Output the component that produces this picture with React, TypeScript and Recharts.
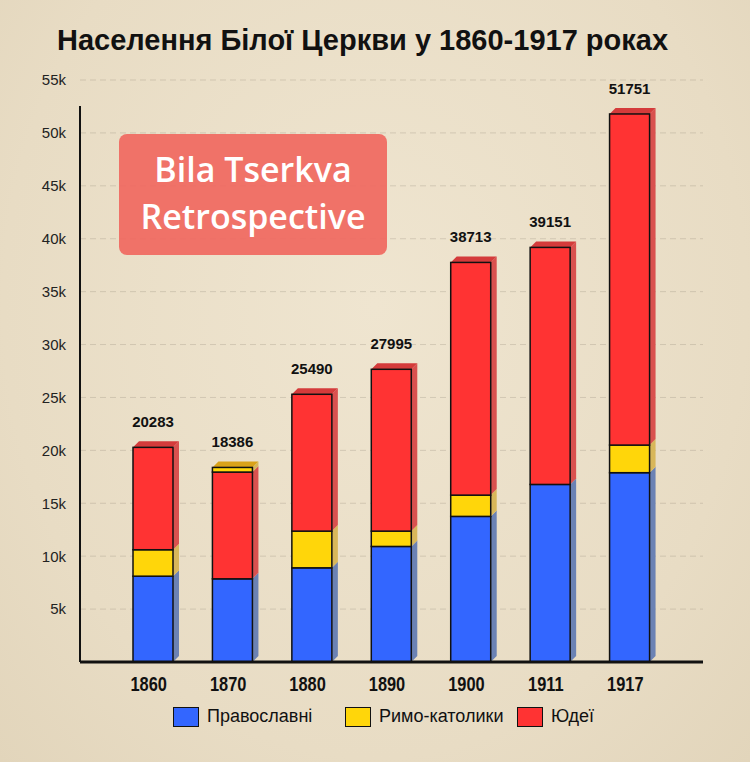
import React from 'react';
import { BarChart, Bar, XAxis, YAxis, CartesianGrid, Legend, LabelList } from 'recharts';

// значення (осі), підписи - загальна кількість
const years = ['1860', '1870', '1880', '1890', '1900', '1911', '1917'];
const orthodox = [8110, 7860, 8900, 10920, 13760, 16780, 17890];
const catholics = [2500, 436, 3470, 1450, 2010, 0, 2610];
const jews = [9673, 10090, 12930, 15290, 21990, 22400, 31290];
const totals = [20283, 18386, 25490, 27995, 38713, 39151, 51751];
// у 1870 католики стоять зверху стовпчика
const catholicsOnTop = [false, true, false, false, false, false, false];
const yTicks = [5000, 10000, 15000, 20000, 25000, 30000, 35000, 40000, 45000, 50000, 55000];

const names = { orthodox: 'Православні', catholics: 'Римо-католики', jews: 'Юдеї' };

const colors = {
  orthodox: { front: '#3366ff', side: '#6b82b4', top: '#4a66c8' },
  catholics: { front: '#ffd60a', side: '#d8b75a', top: '#d9a21a' },
  jews: { front: '#ff3333', side: '#d9514f', top: '#d43b3b' },
};

const data = years.map((year, i) => ({
  year,
  orthodox: orthodox[i],
  catholics: catholicsOnTop[i] ? 0 : catholics[i],
  jews: jews[i],
  catholicsTop: catholicsOnTop[i] ? catholics[i] : 0,
  top: catholicsOnTop[i] ? 'catholicsTop' : 'jews',
}));

const sans = "'Liberation Sans', Arial, sans-serif";
const depth = 6;

function Box3D(props: any) {
  const { x, y, width, height, payload, seriesKey, c } = props;
  if (!height || height <= 0) return null;
  const r = x + width;
  const isTop = payload && payload.top === seriesKey;
  return (
    <g>
      <polygon
        points={`${r},${y + height} ${r + depth},${y + height - depth} ${r + depth},${y - depth} ${r},${y}`}
        fill={c.side}
      />
      {isTop && (
        <polygon points={`${x},${y} ${x + depth},${y - depth} ${r + depth},${y - depth} ${r},${y}`} fill={c.top} />
      )}
      <rect x={x} y={y} width={width} height={height} fill={c.front} stroke="#111" strokeWidth={1.5} />
    </g>
  );
}

const totalLabel = (key: string) => (props: any) => {
  const { x, y, width, index } = props;
  const isTop = (catholicsOnTop[index] ? 'catholicsTop' : 'jews') === key;
  if (!isTop) return null;
  return (
    <text x={x + width / 2} y={y - 20} textAnchor="middle" fontFamily={sans} fontWeight="bold" fontSize={15} fill="#111">
      {totals[index]}
    </text>
  );
};

// вузький жирний шрифт для років
const YearTick = (props: any) => {
  const { x, y, payload } = props;
  return (
    <text
      transform={`translate(${x - 4},${y + 27}) scale(0.82,1)`}
      textAnchor="middle"
      fontFamily={sans}
      fontWeight="bold"
      fontSize={20}
      fill="#111"
    >
      {payload.value}
    </text>
  );
};

const LegendBox = () => {
  const items = [
    { label: names.orthodox, color: colors.orthodox.front },
    { label: names.catholics, color: colors.catholics.front },
    { label: names.jews, color: colors.jews.front },
  ];
  return (
    <div style={{ display: 'flex', paddingLeft: 173 }}>
      {items.map((it) => (
        <div key={it.label} style={{ width: 172, display: 'flex', alignItems: 'center' }}>
          <span style={{ width: 24, height: 18, background: it.color, border: '1.5px solid #111', marginRight: 8 }} />
          <span style={{ fontFamily: sans, fontSize: 18, color: '#111' }}>{it.label}</span>
        </div>
      ))}
    </div>
  );
};

export default function App() {
  return (
    <div
      style={{
        position: 'absolute',
        left: 0,
        top: 0,
        width: 750,
        height: 762,
        background: 'radial-gradient(ellipse at 50% 40%, #efe5d0 0%, #e8dcc4 70%, #e2d5bb 100%)',
        overflow: 'hidden',
      }}
    >
      <div
        style={{
          position: 'absolute',
          top: 24,
          left: 0,
          width: 725,
          textAlign: 'center',
          fontFamily: sans,
          fontWeight: 'bold',
          fontSize: 29,
          color: '#111',
        }}
      >
        Населення Білої Церкви у 1860-1917 роках
      </div>

      <BarChart width={750} height={762} data={data} margin={{ top: 80, right: 47, bottom: 70, left: 0 }} barSize={40}>
        <CartesianGrid vertical={false} stroke="rgba(120,110,95,0.22)" strokeDasharray="6 4" />
        <XAxis
          dataKey="year"
          height={30}
          padding={{ left: 33, right: 34 }}
          axisLine={{ stroke: '#111', strokeWidth: 3 }}
          tickLine={false}
          tickSize={0}
          tick={<YearTick />}
        />
        <YAxis
          width={80}
          domain={[0, 55000]}
          ticks={yTicks}
          tickFormatter={(v) => `${v / 1000}k`}
          axisLine={{ stroke: '#111', strokeWidth: 2, strokeDasharray: '0 26 700' }}
          tickLine={false}
          tickSize={0}
          tickMargin={14}
          tick={{ fill: '#222', fontSize: 15, fontFamily: sans }}
        />
        <Legend
          verticalAlign="middle"
          align="center"
          layout="horizontal"
          wrapperStyle={{ top: 706, left: 0, width: 750 }}
          content={<LegendBox />}
        />
        <Bar dataKey="orthodox" name={names.orthodox} stackId="a" fill={colors.orthodox.front} isAnimationActive={false}
          shape={(p: any) => <Box3D {...p} seriesKey="orthodox" c={colors.orthodox} />} />
        <Bar dataKey="catholics" name={names.catholics} stackId="a" fill={colors.catholics.front} isAnimationActive={false}
          shape={(p: any) => <Box3D {...p} seriesKey="catholics" c={colors.catholics} />} />
        <Bar dataKey="jews" name={names.jews} stackId="a" fill={colors.jews.front} isAnimationActive={false}
          shape={(p: any) => <Box3D {...p} seriesKey="jews" c={colors.jews} />}>
          <LabelList dataKey="jews" content={totalLabel('jews')} />
        </Bar>
        <Bar dataKey="catholicsTop" name={names.catholics} stackId="a" legendType="none" fill={colors.catholics.front}
          isAnimationActive={false} shape={(p: any) => <Box3D {...p} seriesKey="catholicsTop" c={colors.catholics} />}>
          <LabelList dataKey="catholicsTop" content={totalLabel('catholicsTop')} />
        </Bar>
      </BarChart>

      <div
        style={{
          position: 'absolute',
          left: 119,
          top: 134,
          width: 268,
          height: 121,
          borderRadius: 8,
          background: 'rgba(240,104,96,0.92)',
          color: '#fff',
          fontFamily: "'Open Sans', 'Noto Sans', sans-serif",
          fontWeight: 600,
          fontSize: 34,
          lineHeight: '47px',
          textAlign: 'center',
          paddingTop: 12,
          boxSizing: 'border-box',
        }}
      >
        Bila Tserkva
        <br />
        Retrospective
      </div>
    </div>
  );
}
